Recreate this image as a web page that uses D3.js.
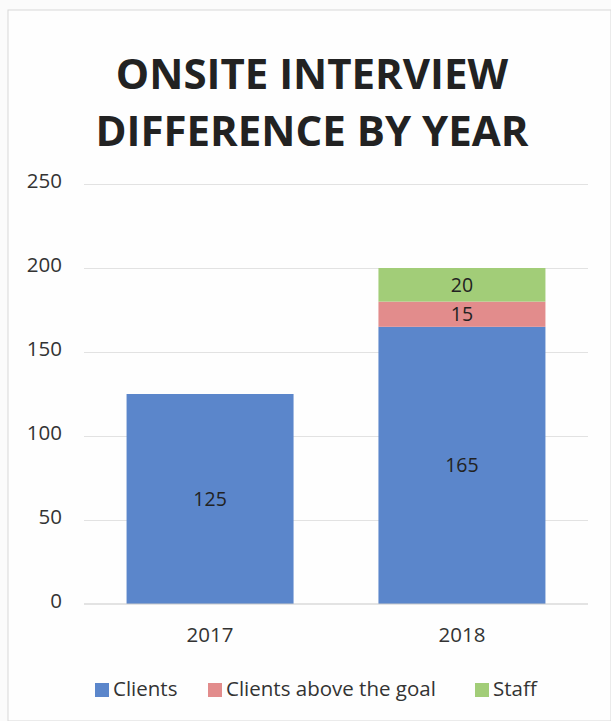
<!DOCTYPE html>
<html>
<head>
<meta charset="utf-8">
<script src="https://cdn.jsdelivr.net/npm/d3@7"></script>
<style>
  body { margin: 0; background: #fbfbfb; }
  text { font-family: "Open Sans", sans-serif; }
</style>
</head>
<body>
<div id="chart"></div>
<script>
let w = 611;
let h = 721;

let years = ["2017", "2018"];
let seriesNames = ["Clients", "Clients above the goal", "Staff"];
let clients = [125, 165];
let aboveGoal = [0, 15];
let staff = [0, 20];
let yTicks = [0, 50, 100, 150, 200, 250];
let colors = ["#5b86cb", "#e28c8c", "#a2cd78"];
let titleLines = ["ONSITE INTERVIEW", "DIFFERENCE BY YEAR"];

let rows = years.map(function(y, i){
	return { year: y, "Clients": clients[i], "Clients above the goal": aboveGoal[i], "Staff": staff[i] };
});

let viz = d3.select("#chart").append("svg")
	.attr("width", w)
	.attr("height", h)
;

// faint frame like the scanned chart border
viz.append("rect")
	.attr("x", 8).attr("y", 10)
	.attr("width", w - 8).attr("height", h - 10)
	.attr("fill", "#fefefe")
	.attr("stroke", "#d8d8d8")
;

let xScale = d3.scaleBand().domain(years).range([84, 588]).paddingInner(0.337).paddingOuter(0.169);
let yScale = d3.scaleLinear().domain([0, 250]).range([604, 184]);

// title
viz.selectAll(".title").data(titleLines).enter().append("text")
	.attr("class", "title")
	.attr("x", 312)
	.attr("y", function(d, i){ return 89 + i * 57; })
	.attr("text-anchor", "middle")
	.attr("font-size", 42)
	.attr("font-weight", "bold")
	.attr("fill", "#222")
	.text(function(d){ return d; })
;

// gridlines
viz.append("g")
	.attr("transform", "translate(84,0)")
	.call(d3.axisLeft(yScale).tickValues(yTicks.slice(1)).tickSize(-504).tickFormat(""))
	.call(function(g){ g.select(".domain").remove(); })
	.selectAll("line").attr("stroke", "#e2e2e2")
;

// y labels
viz.selectAll(".ylab").data(yTicks).enter().append("text")
	.attr("class", "ylab")
	.attr("x", 62)
	.attr("y", function(d){ return yScale(d) + 4; })
	.attr("text-anchor", "end")
	.attr("font-size", 20.5)
	.attr("fill", "#333")
	.text(function(d){ return d; })
;

let stack = d3.stack().keys(seriesNames)(rows);

let layers = viz.selectAll(".layer").data(stack).enter().append("g")
	.attr("class", "layer")
	.attr("fill", function(d, i){ return colors[i]; })
;

layers.selectAll("rect").data(function(d){ return d; }).enter().append("rect")
	.attr("x", function(d){ return xScale(d.data.year); })
	.attr("y", function(d){ return yScale(d[1]); })
	.attr("width", xScale.bandwidth())
	.attr("height", function(d){ return yScale(d[0]) - yScale(d[1]); })
;

layers.selectAll(".val").data(function(d){ return d.filter(function(p){ return p[1] - p[0] > 0; }); }).enter().append("text")
	.attr("class", "val")
	.attr("x", function(d){ return xScale(d.data.year) + xScale.bandwidth() / 2; })
	.attr("y", function(d){ return (yScale(d[0]) + yScale(d[1])) / 2 + 7; })
	.attr("text-anchor", "middle")
	.attr("font-size", 19.5)
	.attr("fill", "#222")
	.text(function(d){ return d[1] - d[0]; })
;

// baseline
viz.append("line")
	.attr("x1", 84).attr("x2", 588)
	.attr("y1", yScale(0)).attr("y2", yScale(0))
	.attr("stroke", "#c8c8c8")
;

// x labels
viz.selectAll(".xlab").data(years).enter().append("text")
	.attr("class", "xlab")
	.attr("x", function(d){ return xScale(d) + xScale.bandwidth() / 2; })
	.attr("y", 642)
	.attr("text-anchor", "middle")
	.attr("font-size", 20.5)
	.attr("fill", "#333")
	.text(function(d){ return d; })
;

// legend
let legendX = [95, 208, 475];
let legend = viz.selectAll(".legend").data(seriesNames).enter().append("g")
	.attr("class", "legend")
	.attr("transform", function(d, i){ return "translate(" + legendX[i] + ",696)"; })
;
legend.append("rect")
	.attr("x", 0).attr("y", -13)
	.attr("width", 14).attr("height", 14)
	.attr("fill", function(d, i){ return colors[i]; })
;
legend.append("text")
	.attr("x", 18).attr("y", 0)
	.attr("font-size", 20.5)
	.attr("fill", "#333")
	.text(function(d){ return d; })
;
</script>
</body>
</html>
